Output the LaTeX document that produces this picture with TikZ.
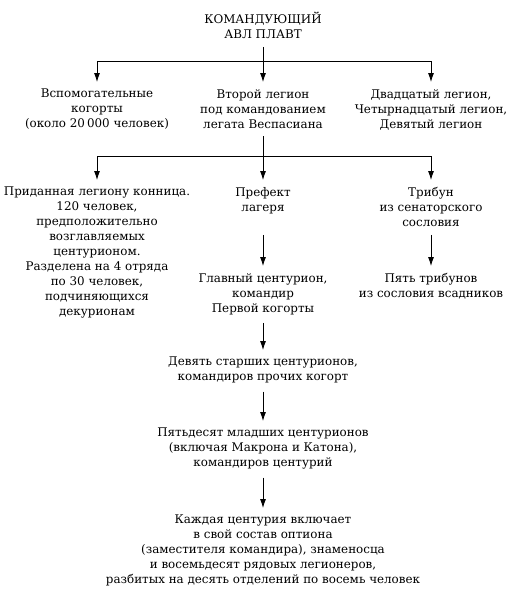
\documentclass[tikz,border=0pt]{standalone}
\usepackage{fontspec}
\setmainfont{DejaVu Serif}
\usetikzlibrary{arrows.meta}

\begin{document}
\begin{tikzpicture}
[
    x=1pt, y=-1pt,
    box/.style={align=center, anchor=north, inner sep=0pt, font=\fontsize{11.9}{15}\selectfont},
    link/.style={line width=.8pt, shorten <=8pt},
    arr/.style={line width=.8pt, -{Latex[length=9pt, width=6pt]}, shorten >=7pt},
]
\useasboundingbox (0,0) rectangle (515,600);

\node [box] (cmd) at (263,12) {КОМАНДУЮЩИЙ\\АВЛ ПЛАВТ};

\node [box] (aux) at (97,89) {Вспомогательные\\когорты\\(около 20\,000 человек)};
\node [box] (leg) at (263,89) {Второй легион\\под командованием\\легата Веспасиана};
\node [box] (rest) at (431,89) {Двадцатый легион,\\Четырнадцатый легион,\\Девятый легион};

\node [box] (cav) at (97,187) {Приданная легиону конница.\\120 человек,\\предположительно\\возглавляемых\\центурионом.\\Разделена на 4 отряда\\по 30 человек,\\подчиняющихся\\декурионам};
\node [box] (pref) at (263,187) {Префект\\лагеря};
\node [box] (trib) at (431,187) {Трибун\\из сенаторского\\сословия};

\node [box] (prim) at (263,273) {Главный центурион,\\командир\\Первой когорты};
\node [box] (eq) at (431,273) {Пять трибунов\\из сословия всадников};

\node [box] (sen) at (263,357) {Девять старших центурионов,\\командиров прочих когорт};
\node [box] (jun) at (263,428) {Пятьдесят младших центурионов\\(включая Макрона и Катона),\\командиров центурий};
\node [box] (cent) at (263,515) {Каждая центурия включает\\в свой состав оптиона\\(заместителя командира), знаменосца\\и восемьдесят рядовых легионеров,\\разбитых на десять отделений по восемь человек};

\coordinate (bus1) at (0,61);
\coordinate (bus2) at (0,156);

\draw [link] (cmd.south) -- (cmd |- bus1);
\draw [line width=.8pt] (aux |- bus1) -- (rest |- bus1);
\draw [arr] (aux |- bus1) -- (aux.north);
\draw [arr] (leg |- bus1) -- (leg.north);
\draw [arr] (rest |- bus1) -- (rest.north);

\draw [link] (leg.south) -- (leg |- bus2);
\draw [line width=.8pt] (cav |- bus2) -- (trib |- bus2);
\draw [arr] (cav |- bus2) -- (cav.north);
\draw [arr] (pref |- bus2) -- (pref.north);
\draw [arr] (trib |- bus2) -- (trib.north);

\draw [arr, link] (pref |- trib.south) -- (prim.north);
\draw [arr, link] (trib.south) -- (eq.north);
\draw [arr, link] (prim.south) -- (sen.north);
\draw [arr, link] (sen.south) -- (jun.north);
\draw [arr, link] (jun.south) -- (cent.north);
\end{tikzpicture}
\end{document}
